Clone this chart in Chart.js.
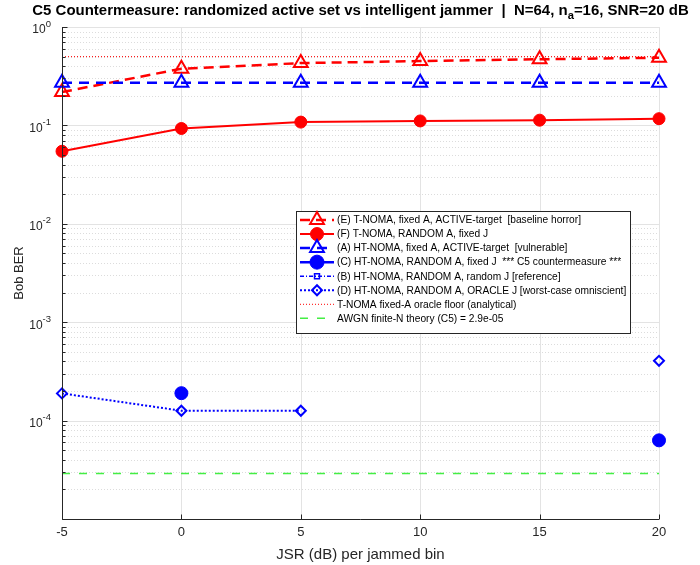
<!DOCTYPE html>
<html>
<head>
<meta charset="utf-8">
<script src="https://cdn.jsdelivr.net/npm/chart.js@4.4.1/dist/chart.umd.min.js"></script>
<style>
  body { margin:0; background:#fff; }
  canvas { display:block; }
</style>
</head>
<body>
<canvas id="berChart" width="700" height="565"></canvas>
<script>
// JSR sweep (dB) and Bob BER per scheme
const jsr   = [-5, 0, 5, 10, 15, 20];
const berE  = [0.218, 0.377, 0.43, 0.45, 0.47, 0.487];
const berF  = [0.0546, 0.093, 0.108, 0.111, 0.113, 0.117];
const berA  = [0.272, 0.272, 0.272, 0.272, 0.272, 0.272];
const berC  = [null, 1.9e-4, null, null, null, 6.3e-5];
const berB  = [null, null, null, null, null, null];
const berD  = [1.89e-4, 1.26e-4, 1.26e-4, null, null, 4.05e-4];
const oracleFloor = 0.5;
const awgnTheory  = 2.9e-5;

const seriesNames = [
  "(E) T-NOMA, fixed A, ACTIVE-target  [baseline horror]",
  "(F) T-NOMA, RANDOM A, fixed J",
  "(A) HT-NOMA, fixed A, ACTIVE-target  [vulnerable]",
  "(C) HT-NOMA, RANDOM A, fixed J  *** C5 countermeasure ***",
  "(B) HT-NOMA, RANDOM A, random J [reference]",
  "(D) HT-NOMA, RANDOM A, ORACLE J [worst-case omniscient]",
  "T-NOMA fixed-A oracle floor (analytical)",
  "AWGN finite-N theory (C5) = 2.9e-05"
];
const xTicks = [-5, 0, 5, 10, 15, 20];
const yTickExps = [0, -1, -2, -3, -4];

const FONT = "'Liberation Sans', Helvetica, Arial, sans-serif";
const RED = "#ff0000", BLUE = "#0000ff", GREEN = "#44ee44";

const pts = arr => jsr.map((x, i) => ({ x: x, y: arr[i] }));
const hline = v => [{ x: jsr[0], y: v }, { x: jsr[jsr.length - 1], y: v }];

const datasets = [
  { label: seriesNames[0], data: pts(berE), borderColor: RED, borderWidth: 2.5, borderDash: [10, 6],
    pointStyle: "triangle", pointRadius: 8, pointBorderWidth: 2, pointBackgroundColor: "rgba(0,0,0,0)", pointBorderColor: RED },
  { label: seriesNames[1], data: pts(berF), borderColor: RED, borderWidth: 2,
    pointStyle: "circle", pointRadius: 6, pointBorderWidth: 1, pointBackgroundColor: RED, pointBorderColor: RED },
  { label: seriesNames[2], data: pts(berA), borderColor: BLUE, borderWidth: 2.5, borderDash: [10, 7],
    pointStyle: "triangle", pointRadius: 8, pointBorderWidth: 2, pointBackgroundColor: "rgba(0,0,0,0)", pointBorderColor: BLUE },
  { label: seriesNames[3], data: pts(berC), borderColor: BLUE, borderWidth: 2.5,
    pointStyle: "circle", pointRadius: 6.5, pointBorderWidth: 1, pointBackgroundColor: BLUE, pointBorderColor: BLUE },
  { label: seriesNames[4], data: pts(berB), borderColor: BLUE, borderWidth: 1.5, borderDash: [4, 2, 1, 2],
    pointStyle: "rect", pointRadius: 3.5, pointBorderWidth: 1.5, pointBackgroundColor: "rgba(0,0,0,0)", pointBorderColor: BLUE },
  { label: seriesNames[5], data: pts(berD), borderColor: BLUE, borderWidth: 2, borderDash: [2, 2],
    pointStyle: "rectRot", pointRadius: 5, pointBorderWidth: 2, pointBackgroundColor: "rgba(0,0,0,0)", pointBorderColor: BLUE },
  { label: seriesNames[6], data: hline(oracleFloor), borderColor: RED, borderWidth: 1, borderDash: [1, 2], pointRadius: 0 },
  { label: seriesNames[7], data: hline(awgnTheory), borderColor: GREEN, borderWidth: 1.5, borderDash: [8, 9], pointRadius: 0 }
];
// matlab draws later series on top
datasets.forEach((d, i) => { d.order = datasets.length - i; d.clip = false; d.spanGaps = false; d.tension = 0; d.fill = false; });

const matlabLook = {
  id: "matlabLook",
  beforeDraw(chart) {
    const ctx = chart.ctx;
    ctx.save();
    ctx.fillStyle = "#fff";
    ctx.fillRect(0, 0, chart.width, chart.height);
    ctx.restore();
  },
  beforeDatasetsDraw(chart) {
    const { ctx, chartArea: a, scales: { x, y } } = chart;
    ctx.save();
    ctx.lineWidth = 1;
    // minor grid (dotted)
    ctx.strokeStyle = "#dcdcdc";
    ctx.setLineDash([1, 2]);
    for (let e = -5; e < 0; e++) {
      for (let m = 2; m <= 9; m++) {
        const py = Math.round(y.getPixelForValue(m * Math.pow(10, e))) + 0.5;
        ctx.beginPath(); ctx.moveTo(a.left, py); ctx.lineTo(a.right, py); ctx.stroke();
      }
    }
    // major grid
    ctx.setLineDash([]);
    ctx.strokeStyle = "#e3e3e3";
    yTickExps.forEach(e => {
      const py = Math.round(y.getPixelForValue(Math.pow(10, e))) + 0.5;
      ctx.beginPath(); ctx.moveTo(a.left, py); ctx.lineTo(a.right, py); ctx.stroke();
    });
    xTicks.forEach(v => {
      const px = Math.round(x.getPixelForValue(v)) + 0.5;
      ctx.beginPath(); ctx.moveTo(px, a.top); ctx.lineTo(px, a.bottom); ctx.stroke();
    });
    ctx.restore();
  },
  afterDatasetsDraw(chart) {
    const { ctx, chartArea: a, scales: { x, y } } = chart;
    ctx.save();
    ctx.strokeStyle = "#262626";
    ctx.lineWidth = 1;
    const L = Math.round(a.left) + 0.5, B = Math.round(a.bottom) + 0.5;
    ctx.beginPath(); ctx.moveTo(L, a.top); ctx.lineTo(L, B); ctx.lineTo(a.right, B); ctx.stroke();
    // tick marks, inward
    for (let e = -5; e <= 0; e++) {
      const py = Math.round(y.getPixelForValue(Math.pow(10, e))) + 0.5;
      ctx.beginPath(); ctx.moveTo(L, py); ctx.lineTo(L + 5, py); ctx.stroke();
      if (e < 0) for (let m = 2; m <= 9; m++) {
        const q = Math.round(y.getPixelForValue(m * Math.pow(10, e))) + 0.5;
        ctx.beginPath(); ctx.moveTo(L, q); ctx.lineTo(L + 3, q); ctx.stroke();
      }
    }
    xTicks.forEach(v => {
      const px = Math.round(x.getPixelForValue(v)) + 0.5;
      ctx.beginPath(); ctx.moveTo(px, B); ctx.lineTo(px, B - 5); ctx.stroke();
    });
    // y tick labels 10^e
    ctx.fillStyle = "#262626";
    ctx.textBaseline = "middle";
    yTickExps.forEach(e => {
      const py = y.getPixelForValue(Math.pow(10, e));
      const ex = e === 0 ? "0" : "-" + Math.abs(e);
      ctx.font = "9.5px " + FONT;
      const ew = ctx.measureText(ex).width;
      ctx.textAlign = "left";
      ctx.fillText(ex, 51 - ew, py - 3);
      ctx.font = "12px " + FONT;
      ctx.textAlign = "right";
      ctx.fillText("10", 51 - ew, py + 3);
    });
    ctx.restore();
  },
  afterDraw(chart) {
    const { ctx, chartArea: a } = chart;
    ctx.save();
    // title with subscript
    const t1 = "C5 Countermeasure: randomized active set vs intelligent jammer  |  N=64, n";
    const t2 = "a", t3 = "=16, SNR=20 dB";
    let fs = 13;
    ctx.font = "bold " + fs + "px " + FONT;
    let w = ctx.measureText(t1 + t3).width;
    ctx.font = "bold " + (fs * 0.75) + "px " + FONT;
    w += ctx.measureText(t2).width;
    fs = fs * 657 / w;
    ctx.font = "bold " + fs + "px " + FONT;
    const w1 = ctx.measureText(t1).width, w3 = ctx.measureText(t3).width;
    ctx.font = "bold " + (fs * 0.75) + "px " + FONT;
    const w2 = ctx.measureText(t2).width;
    let tx = (a.left + a.right) / 2 - (w1 + w2 + w3) / 2;
    ctx.fillStyle = "#000";
    ctx.textBaseline = "middle";
    ctx.textAlign = "left";
    ctx.font = "bold " + fs + "px " + FONT;
    ctx.fillText(t1, tx, 11);
    ctx.font = "bold " + (fs * 0.75) + "px " + FONT;
    ctx.fillText(t2, tx + w1, 16);
    ctx.font = "bold " + fs + "px " + FONT;
    ctx.fillText(t3, tx + w1 + w2, 11);

    // legend box
    const bx = 296.5, by = 211.5, bw = 334, bh = 122;
    ctx.fillStyle = "#fff";
    ctx.fillRect(bx, by, bw, bh);
    ctx.strokeStyle = "#262626";
    ctx.lineWidth = 1;
    ctx.strokeRect(bx, by, bw, bh);
    const rowH = 14.05, y0 = 220;
    chart.data.datasets.forEach((d, i) => {
      const ry = y0 + i * rowH;
      ctx.save();
      ctx.strokeStyle = d.borderColor;
      ctx.lineWidth = d.borderWidth;
      ctx.setLineDash(d.borderDash || []);
      ctx.beginPath(); ctx.moveTo(300, ry); ctx.lineTo(334, ry); ctx.stroke();
      ctx.setLineDash([]);
      if (d.pointRadius > 0) {
        ctx.strokeStyle = d.pointBorderColor;
        ctx.fillStyle = d.pointBackgroundColor;
        ctx.lineWidth = d.pointBorderWidth;
        const r = d.pointStyle === "circle" ? d.pointRadius + 0.5 : d.pointRadius;
        Chart.helpers.drawPoint(ctx, { pointStyle: d.pointStyle, radius: r, rotation: 0, borderWidth: d.pointBorderWidth }, 317, ry);
      }
      ctx.restore();
      ctx.fillStyle = "#000";
      ctx.font = "10.2px " + FONT;
      ctx.textAlign = "left";
      ctx.textBaseline = "middle";
      ctx.fillText(d.label, 337, ry + 0.5);
    });
    ctx.restore();
  }
};

new Chart(document.getElementById("berChart"), {
  type: "line",
  data: { datasets: datasets },
  options: {
    responsive: false,
    animation: false,
    layout: { padding: { top: 27, right: 41, left: 0, bottom: 0 } },
    plugins: { legend: { display: false }, title: { display: false }, tooltip: { enabled: false } },
    scales: {
      x: {
        type: "linear", min: -5, max: 20,
        afterFit: s => { s.height = 46; },
        afterBuildTicks: s => { s.ticks = xTicks.map(v => ({ value: v })); },
        grid: { display: false, drawTicks: false },
        border: { display: false },
        ticks: { color: "#262626", font: { family: FONT, size: 13 }, padding: 6, maxRotation: 0 },
        title: { display: true, text: "JSR (dB) per jammed bin", color: "#262626",
                 font: { family: FONT, size: 15 }, padding: { top: 0, bottom: 1 } }
      },
      y: {
        type: "logarithmic", min: 1e-5, max: 1,
        afterFit: s => { s.width = 62; },
        grid: { display: false, drawTicks: false },
        border: { display: false },
        ticks: { display: false },
        title: { display: true, text: "Bob BER", color: "#262626",
                 font: { family: FONT, size: 13 }, padding: { top: 12, bottom: 0 } }
      }
    }
  },
  plugins: [matlabLook]
});
</script>
</body>
</html>
